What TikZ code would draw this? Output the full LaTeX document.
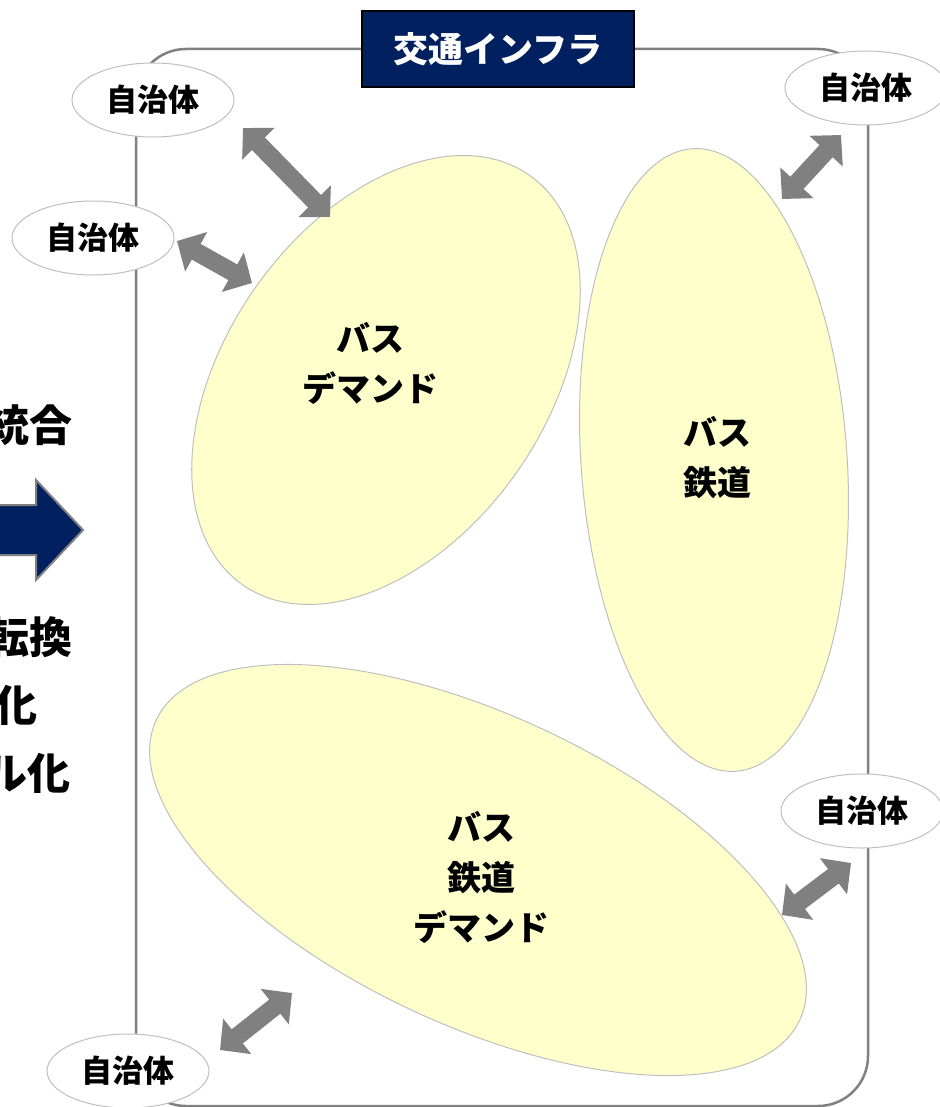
\documentclass[tikz,border=0pt]{standalone}
\usepackage{fontspec}
\setmainfont{Noto Sans CJK JP}[BoldFont={Noto Sans CJK JP Black}]
\usetikzlibrary{shapes.geometric,arrows.meta}
\definecolor{navy}{RGB}{0,32,96}
\definecolor{pale}{RGB}{255,255,204}
\definecolor{edgegray}{RGB}{191,191,191}
\definecolor{arrgray}{RGB}{128,128,128}
\tikzset{
  jichitai/.style={ellipse, draw=edgegray, fill=white, line width=1pt,
    minimum width=162pt, minimum height=74pt, inner sep=0pt,
    font=\bfseries\fontsize{31}{36}\selectfont},
  zone/.style={ellipse, draw=edgegray, fill=pale, line width=1pt, inner sep=0pt},
  zonelabel/.style={align=center, font=\bfseries\fontsize{34}{50}\selectfont},
  sidelabel/.style={anchor=east, inner sep=0pt, font=\bfseries\fontsize{43}{46}\selectfont},
  link/.style={draw=arrgray, line width=18pt,
    {Triangle[width=44pt,length=22pt]}-{Triangle[width=44pt,length=22pt]}}
}
\begin{document}
\begin{tikzpicture}[x=1pt,y=-1pt]
\useasboundingbox (0,0) rectangle (939,1107);
% frame
\node (infra) [draw=arrgray, line width=2.5pt, rounded corners=50pt,
  minimum width=732pt, minimum height=1057pt, inner sep=0pt] at (502,577.5) {};
% zones
\node (z1) [zone, minimum width=500pt, minimum height=320pt, rotate=55] at (386,380) {};
\node (z2) [zone, minimum width=266pt, minimum height=624pt, rotate=4] at (714,460) {};
\node (z3) [zone, minimum width=710pt, minimum height=310pt, rotate=-25] at (478,870) {};
\node (t1) [zonelabel] at (370,363) {バス\\デマンド};
\node (t2) [zonelabel] at (717,458) {バス\\鉄道};
\node (t3) [zonelabel] at (481,877) {バス\\鉄道\\デマンド};
% municipalities
\node (j1) [jichitai] at (153,100) {自治体};
\node (j2) [jichitai] at (93,238) {自治体};
\node (j3) [jichitai] at (866,88) {自治体};
\node (j4) [jichitai] at (862,811) {自治体};
\node (j5) [jichitai] at (128,1071) {自治体};
% link ends
\coordinate (a1s) at (243,128); \coordinate (a1e) at (330,217);
\coordinate (a2s) at (177,241); \coordinate (a2e) at (252,283);
\coordinate (a3s) at (841,135); \coordinate (a3e) at (782,199);
\coordinate (a4s) at (851,863); \coordinate (a4e) at (782,915);
\coordinate (a5s) at (220,1050); \coordinate (a5e) at (292,993);
\draw[link] (a1s) -- (a1e);
\draw[link] (a2s) -- (a2e);
\draw[link] (a3s) -- (a3e);
\draw[link] (a4s) -- (a4e);
\draw[link] (a5s) -- (a5e);
% title
\node (title) [fill=navy, draw=black, line width=1.5pt, minimum width=272pt,
  minimum height=76pt, inner sep=0pt, text=white,
  font=\bfseries\fontsize{35}{40}\selectfont] at (498,49) {交通インフラ};
% left side
\node (l1) [sidelabel] at (73,425) {統合};
\draw[fill=navy, draw=arrgray, line width=2pt]
  (-20,505) -- (36,505) -- (36,480) -- (83,530) -- (36,580) -- (36,555) -- (-20,555) -- cycle;
\node (l2) [sidelabel] at (73,637) {転換};
\node (l3) [sidelabel] at (38,705) {化};
\node (l4) [sidelabel] at (71,773) {ル化};
\end{tikzpicture}
\end{document}
